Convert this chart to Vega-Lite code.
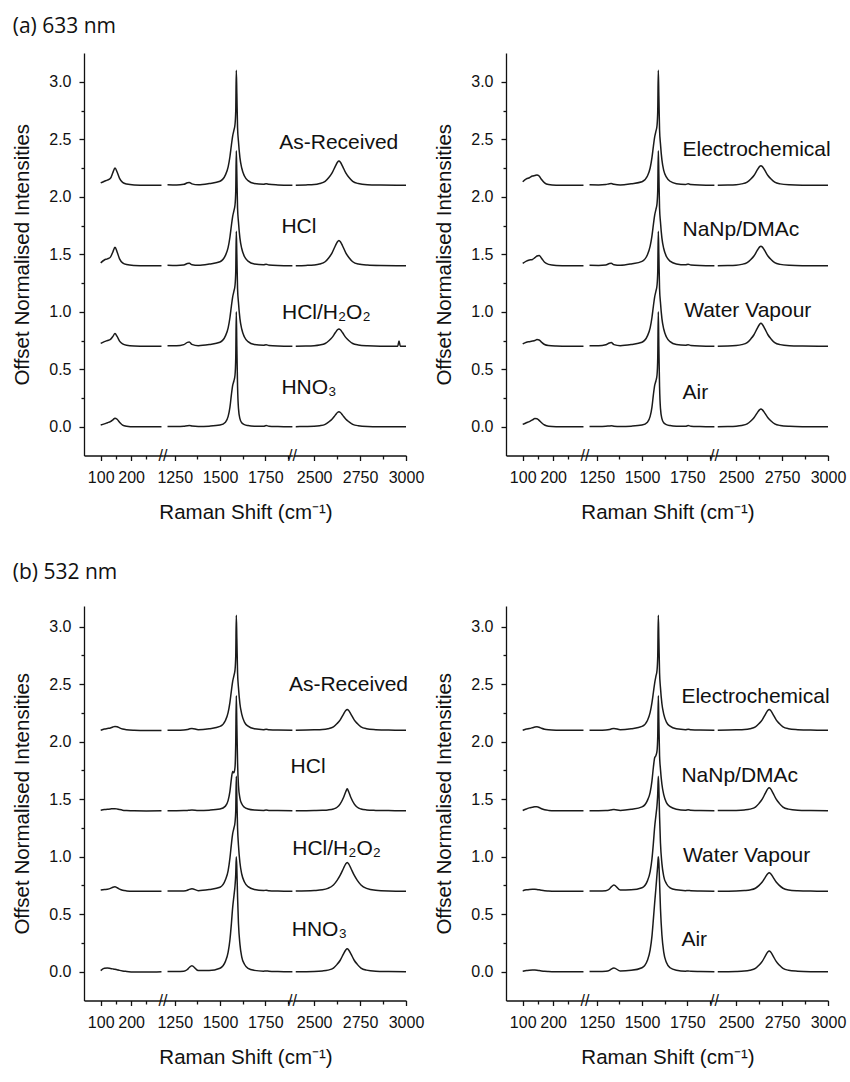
{
"$schema":"https://vega.github.io/schema/vega-lite/v6.json",
"background":"white",
"padding":{"left":12,"top":16,"right":5,"bottom":5},
"datasets":{
"a1":[
{"s":"As-Received","x":100,"y":2.12},{"s":"As-Received","x":112,"y":2.135},{"s":"As-Received","x":122,"y":2.145},{"s":"As-Received","x":132,"y":2.16},{"s":"As-Received","x":140,"y":2.21},{"s":"As-Received","x":147,"y":2.25},{"s":"As-Received","x":154,"y":2.215},{"s":"As-Received","x":162,"y":2.16},{"s":"As-Received","x":172,"y":2.125},{"s":"As-Received","x":185,"y":2.11},{"s":"As-Received","x":210,"y":2.102},{"s":"As-Received","x":250,"y":2.1},{"s":"As-Received","x":300,"y":2.101},
{"s":"As-Received","x":1210,"y":2.105},{"s":"As-Received","x":1260,"y":2.103},{"s":"As-Received","x":1300,"y":2.108},{"s":"As-Received","x":1320,"y":2.122},{"s":"As-Received","x":1330,"y":2.125},{"s":"As-Received","x":1345,"y":2.112},{"s":"As-Received","x":1380,"y":2.104},{"s":"As-Received","x":1440,"y":2.115},{"s":"As-Received","x":1500,"y":2.135},{"s":"As-Received","x":1530,"y":2.19},{"s":"As-Received","x":1545,"y":2.26},{"s":"As-Received","x":1555,"y":2.35},{"s":"As-Received","x":1563,"y":2.45},{"s":"As-Received","x":1570,"y":2.53},{"s":"As-Received","x":1577,"y":2.58},{"s":"As-Received","x":1583,"y":2.63},{"s":"As-Received","x":1587,"y":2.75},{"s":"As-Received","x":1590,"y":3.1},{"s":"As-Received","x":1593,"y":2.9},{"s":"As-Received","x":1597,"y":2.6},{"s":"As-Received","x":1602,"y":2.48},{"s":"As-Received","x":1610,"y":2.34},{"s":"As-Received","x":1620,"y":2.25},{"s":"As-Received","x":1635,"y":2.18},{"s":"As-Received","x":1655,"y":2.14},{"s":"As-Received","x":1690,"y":2.115},{"s":"As-Received","x":1740,"y":2.108},{"s":"As-Received","x":1755,"y":2.114},{"s":"As-Received","x":1770,"y":2.108},{"s":"As-Received","x":1820,"y":2.103},{"s":"As-Received","x":1900,"y":2.1},
{"s":"As-Received","x":2400,"y":2.101},{"s":"As-Received","x":2455,"y":2.103},{"s":"As-Received","x":2500,"y":2.106},{"s":"As-Received","x":2530,"y":2.115},{"s":"As-Received","x":2560,"y":2.134},{"s":"As-Received","x":2580,"y":2.167},{"s":"As-Received","x":2597,"y":2.205},{"s":"As-Received","x":2615,"y":2.264},{"s":"As-Received","x":2627,"y":2.3},{"s":"As-Received","x":2635,"y":2.31},{"s":"As-Received","x":2643,"y":2.3},{"s":"As-Received","x":2655,"y":2.264},{"s":"As-Received","x":2673,"y":2.205},{"s":"As-Received","x":2690,"y":2.167},{"s":"As-Received","x":2710,"y":2.134},{"s":"As-Received","x":2740,"y":2.115},{"s":"As-Received","x":2790,"y":2.105},{"s":"As-Received","x":2860,"y":2.102},{"s":"As-Received","x":3000,"y":2.1},
{"s":"HCl","x":100,"y":1.425},{"s":"HCl","x":112,"y":1.45},{"s":"HCl","x":122,"y":1.46},{"s":"HCl","x":132,"y":1.475},{"s":"HCl","x":140,"y":1.52},{"s":"HCl","x":147,"y":1.56},{"s":"HCl","x":154,"y":1.52},{"s":"HCl","x":162,"y":1.46},{"s":"HCl","x":172,"y":1.425},{"s":"HCl","x":185,"y":1.41},{"s":"HCl","x":210,"y":1.403},{"s":"HCl","x":250,"y":1.4},{"s":"HCl","x":300,"y":1.4},
{"s":"HCl","x":1210,"y":1.405},{"s":"HCl","x":1260,"y":1.403},{"s":"HCl","x":1300,"y":1.407},{"s":"HCl","x":1320,"y":1.419},{"s":"HCl","x":1330,"y":1.421},{"s":"HCl","x":1345,"y":1.409},{"s":"HCl","x":1380,"y":1.404},{"s":"HCl","x":1440,"y":1.415},{"s":"HCl","x":1500,"y":1.435},{"s":"HCl","x":1530,"y":1.49},{"s":"HCl","x":1545,"y":1.56},{"s":"HCl","x":1555,"y":1.65},{"s":"HCl","x":1563,"y":1.75},{"s":"HCl","x":1570,"y":1.83},{"s":"HCl","x":1577,"y":1.88},{"s":"HCl","x":1583,"y":1.93},{"s":"HCl","x":1587,"y":2.05},{"s":"HCl","x":1590,"y":2.4},{"s":"HCl","x":1593,"y":2.2},{"s":"HCl","x":1597,"y":1.9},{"s":"HCl","x":1602,"y":1.78},{"s":"HCl","x":1610,"y":1.64},{"s":"HCl","x":1620,"y":1.55},{"s":"HCl","x":1635,"y":1.48},{"s":"HCl","x":1655,"y":1.44},{"s":"HCl","x":1690,"y":1.415},{"s":"HCl","x":1740,"y":1.408},{"s":"HCl","x":1755,"y":1.413},{"s":"HCl","x":1770,"y":1.407},{"s":"HCl","x":1820,"y":1.402},{"s":"HCl","x":1900,"y":1.4},
{"s":"HCl","x":2400,"y":1.401},{"s":"HCl","x":2455,"y":1.403},{"s":"HCl","x":2500,"y":1.407},{"s":"HCl","x":2530,"y":1.415},{"s":"HCl","x":2560,"y":1.435},{"s":"HCl","x":2580,"y":1.47},{"s":"HCl","x":2597,"y":1.51},{"s":"HCl","x":2615,"y":1.572},{"s":"HCl","x":2627,"y":1.609},{"s":"HCl","x":2635,"y":1.62},{"s":"HCl","x":2643,"y":1.609},{"s":"HCl","x":2655,"y":1.572},{"s":"HCl","x":2673,"y":1.51},{"s":"HCl","x":2690,"y":1.47},{"s":"HCl","x":2710,"y":1.435},{"s":"HCl","x":2740,"y":1.415},{"s":"HCl","x":2790,"y":1.406},{"s":"HCl","x":2860,"y":1.402},{"s":"HCl","x":3000,"y":1.4},
{"s":"HCl/H2O2","x":100,"y":0.725},{"s":"HCl/H2O2","x":112,"y":0.74},{"s":"HCl/H2O2","x":122,"y":0.75},{"s":"HCl/H2O2","x":132,"y":0.76},{"s":"HCl/H2O2","x":140,"y":0.785},{"s":"HCl/H2O2","x":147,"y":0.81},{"s":"HCl/H2O2","x":154,"y":0.785},{"s":"HCl/H2O2","x":162,"y":0.745},{"s":"HCl/H2O2","x":172,"y":0.72},{"s":"HCl/H2O2","x":185,"y":0.708},{"s":"HCl/H2O2","x":210,"y":0.702},{"s":"HCl/H2O2","x":250,"y":0.7},{"s":"HCl/H2O2","x":300,"y":0.7},
{"s":"HCl/H2O2","x":1210,"y":0.705},{"s":"HCl/H2O2","x":1260,"y":0.704},{"s":"HCl/H2O2","x":1300,"y":0.714},{"s":"HCl/H2O2","x":1320,"y":0.734},{"s":"HCl/H2O2","x":1330,"y":0.737},{"s":"HCl/H2O2","x":1345,"y":0.716},{"s":"HCl/H2O2","x":1380,"y":0.705},{"s":"HCl/H2O2","x":1440,"y":0.715},{"s":"HCl/H2O2","x":1500,"y":0.735},{"s":"HCl/H2O2","x":1530,"y":0.79},{"s":"HCl/H2O2","x":1545,"y":0.86},{"s":"HCl/H2O2","x":1555,"y":0.95},{"s":"HCl/H2O2","x":1563,"y":1.05},{"s":"HCl/H2O2","x":1570,"y":1.13},{"s":"HCl/H2O2","x":1577,"y":1.18},{"s":"HCl/H2O2","x":1583,"y":1.23},{"s":"HCl/H2O2","x":1587,"y":1.35},{"s":"HCl/H2O2","x":1590,"y":1.7},{"s":"HCl/H2O2","x":1593,"y":1.5},{"s":"HCl/H2O2","x":1597,"y":1.2},{"s":"HCl/H2O2","x":1602,"y":1.08},{"s":"HCl/H2O2","x":1610,"y":0.94},{"s":"HCl/H2O2","x":1620,"y":0.85},{"s":"HCl/H2O2","x":1635,"y":0.78},{"s":"HCl/H2O2","x":1655,"y":0.74},{"s":"HCl/H2O2","x":1690,"y":0.715},{"s":"HCl/H2O2","x":1740,"y":0.708},{"s":"HCl/H2O2","x":1755,"y":0.713},{"s":"HCl/H2O2","x":1770,"y":0.707},{"s":"HCl/H2O2","x":1820,"y":0.702},{"s":"HCl/H2O2","x":1900,"y":0.7},
{"s":"HCl/H2O2","x":2400,"y":0.701},{"s":"HCl/H2O2","x":2455,"y":0.702},{"s":"HCl/H2O2","x":2500,"y":0.705},{"s":"HCl/H2O2","x":2530,"y":0.711},{"s":"HCl/H2O2","x":2560,"y":0.724},{"s":"HCl/H2O2","x":2580,"y":0.748},{"s":"HCl/H2O2","x":2597,"y":0.775},{"s":"HCl/H2O2","x":2615,"y":0.817},{"s":"HCl/H2O2","x":2627,"y":0.843},{"s":"HCl/H2O2","x":2635,"y":0.85},{"s":"HCl/H2O2","x":2643,"y":0.843},{"s":"HCl/H2O2","x":2655,"y":0.817},{"s":"HCl/H2O2","x":2673,"y":0.775},{"s":"HCl/H2O2","x":2690,"y":0.748},{"s":"HCl/H2O2","x":2710,"y":0.724},{"s":"HCl/H2O2","x":2740,"y":0.711},{"s":"HCl/H2O2","x":2790,"y":0.704},{"s":"HCl/H2O2","x":2860,"y":0.701},{"s":"HCl/H2O2","x":2955,"y":0.701},{"s":"HCl/H2O2","x":2962,"y":0.745},{"s":"HCl/H2O2","x":2969,"y":0.701},{"s":"HCl/H2O2","x":3000,"y":0.7},
{"s":"HNO3","x":100,"y":0.015},{"s":"HNO3","x":112,"y":0.025},{"s":"HNO3","x":122,"y":0.035},{"s":"HNO3","x":132,"y":0.045},{"s":"HNO3","x":140,"y":0.06},{"s":"HNO3","x":147,"y":0.075},{"s":"HNO3","x":154,"y":0.065},{"s":"HNO3","x":162,"y":0.04},{"s":"HNO3","x":172,"y":0.015},{"s":"HNO3","x":185,"y":0.005},{"s":"HNO3","x":210,"y":0},{"s":"HNO3","x":250,"y":0},{"s":"HNO3","x":300,"y":0},
{"s":"HNO3","x":1210,"y":0.003},{"s":"HNO3","x":1260,"y":0.002},{"s":"HNO3","x":1300,"y":0.005},{"s":"HNO3","x":1320,"y":0.009},{"s":"HNO3","x":1330,"y":0.01},{"s":"HNO3","x":1345,"y":0.006},{"s":"HNO3","x":1380,"y":0.002},{"s":"HNO3","x":1440,"y":0.005},{"s":"HNO3","x":1500,"y":0.015},{"s":"HNO3","x":1530,"y":0.04},{"s":"HNO3","x":1545,"y":0.09},{"s":"HNO3","x":1555,"y":0.17},{"s":"HNO3","x":1563,"y":0.28},{"s":"HNO3","x":1570,"y":0.36},{"s":"HNO3","x":1577,"y":0.4},{"s":"HNO3","x":1583,"y":0.45},{"s":"HNO3","x":1587,"y":0.6},{"s":"HNO3","x":1590,"y":1.0},{"s":"HNO3","x":1593,"y":0.7},{"s":"HNO3","x":1597,"y":0.35},{"s":"HNO3","x":1602,"y":0.16},{"s":"HNO3","x":1610,"y":0.07},{"s":"HNO3","x":1620,"y":0.035},{"s":"HNO3","x":1635,"y":0.018},{"s":"HNO3","x":1655,"y":0.01},{"s":"HNO3","x":1690,"y":0.005},{"s":"HNO3","x":1740,"y":0.004},{"s":"HNO3","x":1755,"y":0.01},{"s":"HNO3","x":1770,"y":0.005},{"s":"HNO3","x":1820,"y":0.002},{"s":"HNO3","x":1900,"y":0},
{"s":"HNO3","x":2400,"y":0.001},{"s":"HNO3","x":2455,"y":0.002},{"s":"HNO3","x":2500,"y":0.004},{"s":"HNO3","x":2530,"y":0.009},{"s":"HNO3","x":2560,"y":0.021},{"s":"HNO3","x":2580,"y":0.042},{"s":"HNO3","x":2597,"y":0.065},{"s":"HNO3","x":2615,"y":0.101},{"s":"HNO3","x":2627,"y":0.124},{"s":"HNO3","x":2635,"y":0.13},{"s":"HNO3","x":2643,"y":0.124},{"s":"HNO3","x":2655,"y":0.101},{"s":"HNO3","x":2673,"y":0.065},{"s":"HNO3","x":2690,"y":0.042},{"s":"HNO3","x":2710,"y":0.021},{"s":"HNO3","x":2740,"y":0.009},{"s":"HNO3","x":2790,"y":0.003},{"s":"HNO3","x":2860,"y":0.001},{"s":"HNO3","x":3000,"y":0}
],
"a2":[
{"s":"Electrochemical","x":100,"y":2.13},{"s":"Electrochemical","x":112,"y":2.155},{"s":"Electrochemical","x":122,"y":2.165},{"s":"Electrochemical","x":132,"y":2.18},{"s":"Electrochemical","x":140,"y":2.185},{"s":"Electrochemical","x":147,"y":2.19},{"s":"Electrochemical","x":154,"y":2.18},{"s":"Electrochemical","x":162,"y":2.15},{"s":"Electrochemical","x":172,"y":2.12},{"s":"Electrochemical","x":185,"y":2.106},{"s":"Electrochemical","x":210,"y":2.101},{"s":"Electrochemical","x":250,"y":2.1},{"s":"Electrochemical","x":300,"y":2.1},
{"s":"Electrochemical","x":1210,"y":2.104},{"s":"Electrochemical","x":1260,"y":2.103},{"s":"Electrochemical","x":1300,"y":2.106},{"s":"Electrochemical","x":1320,"y":2.114},{"s":"Electrochemical","x":1330,"y":2.115},{"s":"Electrochemical","x":1345,"y":2.108},{"s":"Electrochemical","x":1380,"y":2.103},{"s":"Electrochemical","x":1440,"y":2.113},{"s":"Electrochemical","x":1500,"y":2.13},{"s":"Electrochemical","x":1530,"y":2.18},{"s":"Electrochemical","x":1545,"y":2.25},{"s":"Electrochemical","x":1555,"y":2.34},{"s":"Electrochemical","x":1563,"y":2.44},{"s":"Electrochemical","x":1570,"y":2.52},{"s":"Electrochemical","x":1577,"y":2.57},{"s":"Electrochemical","x":1583,"y":2.62},{"s":"Electrochemical","x":1587,"y":2.75},{"s":"Electrochemical","x":1590,"y":3.1},{"s":"Electrochemical","x":1593,"y":2.88},{"s":"Electrochemical","x":1597,"y":2.58},{"s":"Electrochemical","x":1602,"y":2.46},{"s":"Electrochemical","x":1610,"y":2.32},{"s":"Electrochemical","x":1620,"y":2.23},{"s":"Electrochemical","x":1635,"y":2.17},{"s":"Electrochemical","x":1655,"y":2.135},{"s":"Electrochemical","x":1690,"y":2.114},{"s":"Electrochemical","x":1740,"y":2.107},{"s":"Electrochemical","x":1755,"y":2.112},{"s":"Electrochemical","x":1770,"y":2.107},{"s":"Electrochemical","x":1820,"y":2.102},{"s":"Electrochemical","x":1900,"y":2.1},
{"s":"Electrochemical","x":2400,"y":2.101},{"s":"Electrochemical","x":2455,"y":2.102},{"s":"Electrochemical","x":2500,"y":2.105},{"s":"Electrochemical","x":2530,"y":2.112},{"s":"Electrochemical","x":2560,"y":2.127},{"s":"Electrochemical","x":2580,"y":2.154},{"s":"Electrochemical","x":2597,"y":2.185},{"s":"Electrochemical","x":2615,"y":2.233},{"s":"Electrochemical","x":2627,"y":2.262},{"s":"Electrochemical","x":2635,"y":2.27},{"s":"Electrochemical","x":2643,"y":2.262},{"s":"Electrochemical","x":2655,"y":2.233},{"s":"Electrochemical","x":2673,"y":2.185},{"s":"Electrochemical","x":2690,"y":2.154},{"s":"Electrochemical","x":2710,"y":2.127},{"s":"Electrochemical","x":2740,"y":2.112},{"s":"Electrochemical","x":2790,"y":2.104},{"s":"Electrochemical","x":2860,"y":2.101},{"s":"Electrochemical","x":3000,"y":2.1},
{"s":"NaNp/DMAc","x":100,"y":1.42},{"s":"NaNp/DMAc","x":112,"y":1.44},{"s":"NaNp/DMAc","x":122,"y":1.45},{"s":"NaNp/DMAc","x":132,"y":1.455},{"s":"NaNp/DMAc","x":140,"y":1.47},{"s":"NaNp/DMAc","x":147,"y":1.485},{"s":"NaNp/DMAc","x":154,"y":1.49},{"s":"NaNp/DMAc","x":162,"y":1.465},{"s":"NaNp/DMAc","x":172,"y":1.43},{"s":"NaNp/DMAc","x":185,"y":1.412},{"s":"NaNp/DMAc","x":210,"y":1.403},{"s":"NaNp/DMAc","x":250,"y":1.4},{"s":"NaNp/DMAc","x":300,"y":1.4},
{"s":"NaNp/DMAc","x":1210,"y":1.404},{"s":"NaNp/DMAc","x":1260,"y":1.403},{"s":"NaNp/DMAc","x":1300,"y":1.407},{"s":"NaNp/DMAc","x":1320,"y":1.419},{"s":"NaNp/DMAc","x":1330,"y":1.421},{"s":"NaNp/DMAc","x":1345,"y":1.409},{"s":"NaNp/DMAc","x":1380,"y":1.404},{"s":"NaNp/DMAc","x":1440,"y":1.416},{"s":"NaNp/DMAc","x":1500,"y":1.438},{"s":"NaNp/DMAc","x":1530,"y":1.495},{"s":"NaNp/DMAc","x":1545,"y":1.57},{"s":"NaNp/DMAc","x":1555,"y":1.66},{"s":"NaNp/DMAc","x":1563,"y":1.76},{"s":"NaNp/DMAc","x":1570,"y":1.84},{"s":"NaNp/DMAc","x":1577,"y":1.89},{"s":"NaNp/DMAc","x":1583,"y":1.94},{"s":"NaNp/DMAc","x":1587,"y":2.06},{"s":"NaNp/DMAc","x":1590,"y":2.4},{"s":"NaNp/DMAc","x":1593,"y":2.2},{"s":"NaNp/DMAc","x":1597,"y":1.9},{"s":"NaNp/DMAc","x":1602,"y":1.78},{"s":"NaNp/DMAc","x":1610,"y":1.64},{"s":"NaNp/DMAc","x":1620,"y":1.55},{"s":"NaNp/DMAc","x":1635,"y":1.48},{"s":"NaNp/DMAc","x":1655,"y":1.44},{"s":"NaNp/DMAc","x":1690,"y":1.416},{"s":"NaNp/DMAc","x":1740,"y":1.408},{"s":"NaNp/DMAc","x":1755,"y":1.413},{"s":"NaNp/DMAc","x":1770,"y":1.407},{"s":"NaNp/DMAc","x":1820,"y":1.402},{"s":"NaNp/DMAc","x":1900,"y":1.4},
{"s":"NaNp/DMAc","x":2400,"y":1.401},{"s":"NaNp/DMAc","x":2455,"y":1.402},{"s":"NaNp/DMAc","x":2500,"y":1.405},{"s":"NaNp/DMAc","x":2530,"y":1.412},{"s":"NaNp/DMAc","x":2560,"y":1.427},{"s":"NaNp/DMAc","x":2580,"y":1.454},{"s":"NaNp/DMAc","x":2597,"y":1.485},{"s":"NaNp/DMAc","x":2615,"y":1.533},{"s":"NaNp/DMAc","x":2627,"y":1.562},{"s":"NaNp/DMAc","x":2635,"y":1.57},{"s":"NaNp/DMAc","x":2643,"y":1.562},{"s":"NaNp/DMAc","x":2655,"y":1.533},{"s":"NaNp/DMAc","x":2673,"y":1.485},{"s":"NaNp/DMAc","x":2690,"y":1.454},{"s":"NaNp/DMAc","x":2710,"y":1.427},{"s":"NaNp/DMAc","x":2740,"y":1.412},{"s":"NaNp/DMAc","x":2790,"y":1.404},{"s":"NaNp/DMAc","x":2860,"y":1.401},{"s":"NaNp/DMAc","x":3000,"y":1.4},
{"s":"Water Vapour","x":100,"y":0.72},{"s":"Water Vapour","x":112,"y":0.735},{"s":"Water Vapour","x":122,"y":0.74},{"s":"Water Vapour","x":132,"y":0.745},{"s":"Water Vapour","x":140,"y":0.75},{"s":"Water Vapour","x":147,"y":0.758},{"s":"Water Vapour","x":154,"y":0.755},{"s":"Water Vapour","x":162,"y":0.735},{"s":"Water Vapour","x":172,"y":0.715},{"s":"Water Vapour","x":185,"y":0.706},{"s":"Water Vapour","x":210,"y":0.702},{"s":"Water Vapour","x":250,"y":0.7},{"s":"Water Vapour","x":300,"y":0.7},
{"s":"Water Vapour","x":1210,"y":0.705},{"s":"Water Vapour","x":1260,"y":0.704},{"s":"Water Vapour","x":1300,"y":0.713},{"s":"Water Vapour","x":1320,"y":0.729},{"s":"Water Vapour","x":1330,"y":0.732},{"s":"Water Vapour","x":1345,"y":0.714},{"s":"Water Vapour","x":1380,"y":0.705},{"s":"Water Vapour","x":1440,"y":0.715},{"s":"Water Vapour","x":1500,"y":0.735},{"s":"Water Vapour","x":1530,"y":0.79},{"s":"Water Vapour","x":1545,"y":0.86},{"s":"Water Vapour","x":1555,"y":0.95},{"s":"Water Vapour","x":1563,"y":1.05},{"s":"Water Vapour","x":1570,"y":1.13},{"s":"Water Vapour","x":1577,"y":1.18},{"s":"Water Vapour","x":1583,"y":1.23},{"s":"Water Vapour","x":1587,"y":1.35},{"s":"Water Vapour","x":1590,"y":1.7},{"s":"Water Vapour","x":1593,"y":1.5},{"s":"Water Vapour","x":1597,"y":1.2},{"s":"Water Vapour","x":1602,"y":1.08},{"s":"Water Vapour","x":1610,"y":0.94},{"s":"Water Vapour","x":1620,"y":0.85},{"s":"Water Vapour","x":1635,"y":0.78},{"s":"Water Vapour","x":1655,"y":0.74},{"s":"Water Vapour","x":1690,"y":0.715},{"s":"Water Vapour","x":1740,"y":0.708},{"s":"Water Vapour","x":1755,"y":0.713},{"s":"Water Vapour","x":1770,"y":0.707},{"s":"Water Vapour","x":1820,"y":0.702},{"s":"Water Vapour","x":1900,"y":0.7},
{"s":"Water Vapour","x":2400,"y":0.701},{"s":"Water Vapour","x":2455,"y":0.702},{"s":"Water Vapour","x":2500,"y":0.706},{"s":"Water Vapour","x":2530,"y":0.714},{"s":"Water Vapour","x":2560,"y":0.732},{"s":"Water Vapour","x":2580,"y":0.764},{"s":"Water Vapour","x":2597,"y":0.8},{"s":"Water Vapour","x":2615,"y":0.856},{"s":"Water Vapour","x":2627,"y":0.89},{"s":"Water Vapour","x":2635,"y":0.9},{"s":"Water Vapour","x":2643,"y":0.89},{"s":"Water Vapour","x":2655,"y":0.856},{"s":"Water Vapour","x":2673,"y":0.8},{"s":"Water Vapour","x":2690,"y":0.764},{"s":"Water Vapour","x":2710,"y":0.732},{"s":"Water Vapour","x":2740,"y":0.714},{"s":"Water Vapour","x":2790,"y":0.705},{"s":"Water Vapour","x":2860,"y":0.702},{"s":"Water Vapour","x":3000,"y":0.7},
{"s":"Air","x":100,"y":0.02},{"s":"Air","x":112,"y":0.035},{"s":"Air","x":122,"y":0.045},{"s":"Air","x":132,"y":0.06},{"s":"Air","x":140,"y":0.072},{"s":"Air","x":147,"y":0.07},{"s":"Air","x":154,"y":0.055},{"s":"Air","x":162,"y":0.035},{"s":"Air","x":172,"y":0.015},{"s":"Air","x":185,"y":0.005},{"s":"Air","x":210,"y":0.001},{"s":"Air","x":250,"y":0},{"s":"Air","x":300,"y":0},
{"s":"Air","x":1210,"y":0.003},{"s":"Air","x":1260,"y":0.002},{"s":"Air","x":1300,"y":0.004},{"s":"Air","x":1320,"y":0.007},{"s":"Air","x":1330,"y":0.008},{"s":"Air","x":1345,"y":0.005},{"s":"Air","x":1380,"y":0.002},{"s":"Air","x":1440,"y":0.005},{"s":"Air","x":1500,"y":0.015},{"s":"Air","x":1530,"y":0.04},{"s":"Air","x":1545,"y":0.09},{"s":"Air","x":1555,"y":0.17},{"s":"Air","x":1563,"y":0.28},{"s":"Air","x":1570,"y":0.36},{"s":"Air","x":1577,"y":0.4},{"s":"Air","x":1583,"y":0.45},{"s":"Air","x":1587,"y":0.6},{"s":"Air","x":1590,"y":1.0},{"s":"Air","x":1593,"y":0.7},{"s":"Air","x":1597,"y":0.35},{"s":"Air","x":1602,"y":0.16},{"s":"Air","x":1610,"y":0.07},{"s":"Air","x":1620,"y":0.035},{"s":"Air","x":1635,"y":0.018},{"s":"Air","x":1655,"y":0.01},{"s":"Air","x":1690,"y":0.005},{"s":"Air","x":1740,"y":0.004},{"s":"Air","x":1755,"y":0.01},{"s":"Air","x":1770,"y":0.005},{"s":"Air","x":1820,"y":0.002},{"s":"Air","x":1900,"y":0},
{"s":"Air","x":2400,"y":0.001},{"s":"Air","x":2455,"y":0.002},{"s":"Air","x":2500,"y":0.005},{"s":"Air","x":2530,"y":0.011},{"s":"Air","x":2560,"y":0.025},{"s":"Air","x":2580,"y":0.05},{"s":"Air","x":2597,"y":0.078},{"s":"Air","x":2615,"y":0.121},{"s":"Air","x":2627,"y":0.147},{"s":"Air","x":2635,"y":0.155},{"s":"Air","x":2643,"y":0.147},{"s":"Air","x":2655,"y":0.121},{"s":"Air","x":2673,"y":0.078},{"s":"Air","x":2690,"y":0.05},{"s":"Air","x":2710,"y":0.025},{"s":"Air","x":2740,"y":0.011},{"s":"Air","x":2790,"y":0.004},{"s":"Air","x":2860,"y":0.001},{"s":"Air","x":3000,"y":0}
],
"b1":[
{"s":"As-Received","x":100,"y":2.1},{"s":"As-Received","x":112,"y":2.11},{"s":"As-Received","x":122,"y":2.115},{"s":"As-Received","x":132,"y":2.12},{"s":"As-Received","x":140,"y":2.128},{"s":"As-Received","x":147,"y":2.132},{"s":"As-Received","x":154,"y":2.13},{"s":"As-Received","x":162,"y":2.12},{"s":"As-Received","x":172,"y":2.11},{"s":"As-Received","x":185,"y":2.104},{"s":"As-Received","x":210,"y":2.1},{"s":"As-Received","x":250,"y":2.098},{"s":"As-Received","x":300,"y":2.098},
{"s":"As-Received","x":1210,"y":2.1},{"s":"As-Received","x":1260,"y":2.1},{"s":"As-Received","x":1300,"y":2.102},{"s":"As-Received","x":1320,"y":2.106},{"s":"As-Received","x":1330,"y":2.111},{"s":"As-Received","x":1345,"y":2.116},{"s":"As-Received","x":1380,"y":2.104},{"s":"As-Received","x":1440,"y":2.113},{"s":"As-Received","x":1500,"y":2.133},{"s":"As-Received","x":1530,"y":2.185},{"s":"As-Received","x":1545,"y":2.255},{"s":"As-Received","x":1555,"y":2.345},{"s":"As-Received","x":1563,"y":2.445},{"s":"As-Received","x":1570,"y":2.525},{"s":"As-Received","x":1577,"y":2.575},{"s":"As-Received","x":1583,"y":2.625},{"s":"As-Received","x":1587,"y":2.75},{"s":"As-Received","x":1590,"y":3.1},{"s":"As-Received","x":1593,"y":2.9},{"s":"As-Received","x":1597,"y":2.6},{"s":"As-Received","x":1602,"y":2.47},{"s":"As-Received","x":1610,"y":2.33},{"s":"As-Received","x":1620,"y":2.24},{"s":"As-Received","x":1635,"y":2.17},{"s":"As-Received","x":1655,"y":2.135},{"s":"As-Received","x":1690,"y":2.112},{"s":"As-Received","x":1740,"y":2.105},{"s":"As-Received","x":1755,"y":2.108},{"s":"As-Received","x":1770,"y":2.104},{"s":"As-Received","x":1820,"y":2.101},{"s":"As-Received","x":1900,"y":2.1},
{"s":"As-Received","x":2400,"y":2.1},{"s":"As-Received","x":2500,"y":2.103},{"s":"As-Received","x":2545,"y":2.106},{"s":"As-Received","x":2575,"y":2.113},{"s":"As-Received","x":2605,"y":2.129},{"s":"As-Received","x":2625,"y":2.158},{"s":"As-Received","x":2642,"y":2.19},{"s":"As-Received","x":2660,"y":2.24},{"s":"As-Received","x":2672,"y":2.271},{"s":"As-Received","x":2680,"y":2.28},{"s":"As-Received","x":2688,"y":2.271},{"s":"As-Received","x":2700,"y":2.24},{"s":"As-Received","x":2718,"y":2.19},{"s":"As-Received","x":2735,"y":2.158},{"s":"As-Received","x":2755,"y":2.129},{"s":"As-Received","x":2785,"y":2.113},{"s":"As-Received","x":2835,"y":2.105},{"s":"As-Received","x":2905,"y":2.101},{"s":"As-Received","x":3000,"y":2.1},
{"s":"HCl","x":100,"y":1.405},{"s":"HCl","x":112,"y":1.41},{"s":"HCl","x":122,"y":1.413},{"s":"HCl","x":132,"y":1.415},{"s":"HCl","x":140,"y":1.418},{"s":"HCl","x":147,"y":1.418},{"s":"HCl","x":154,"y":1.415},{"s":"HCl","x":162,"y":1.41},{"s":"HCl","x":172,"y":1.405},{"s":"HCl","x":185,"y":1.402},{"s":"HCl","x":210,"y":1.399},{"s":"HCl","x":250,"y":1.398},{"s":"HCl","x":300,"y":1.399},
{"s":"HCl","x":1210,"y":1.4},{"s":"HCl","x":1260,"y":1.4},{"s":"HCl","x":1300,"y":1.401},{"s":"HCl","x":1320,"y":1.403},{"s":"HCl","x":1330,"y":1.405},{"s":"HCl","x":1345,"y":1.406},{"s":"HCl","x":1380,"y":1.402},{"s":"HCl","x":1440,"y":1.405},{"s":"HCl","x":1500,"y":1.415},{"s":"HCl","x":1530,"y":1.44},{"s":"HCl","x":1545,"y":1.49},{"s":"HCl","x":1555,"y":1.57},{"s":"HCl","x":1563,"y":1.68},{"s":"HCl","x":1570,"y":1.74},{"s":"HCl","x":1577,"y":1.73},{"s":"HCl","x":1583,"y":1.78},{"s":"HCl","x":1587,"y":2.0},{"s":"HCl","x":1590,"y":2.4},{"s":"HCl","x":1593,"y":2.15},{"s":"HCl","x":1597,"y":1.82},{"s":"HCl","x":1602,"y":1.62},{"s":"HCl","x":1610,"y":1.51},{"s":"HCl","x":1620,"y":1.46},{"s":"HCl","x":1635,"y":1.43},{"s":"HCl","x":1655,"y":1.415},{"s":"HCl","x":1690,"y":1.406},{"s":"HCl","x":1740,"y":1.403},{"s":"HCl","x":1755,"y":1.406},{"s":"HCl","x":1770,"y":1.403},{"s":"HCl","x":1820,"y":1.401},{"s":"HCl","x":1900,"y":1.4},
{"s":"HCl","x":2400,"y":1.4},{"s":"HCl","x":2500,"y":1.402},{"s":"HCl","x":2545,"y":1.404},{"s":"HCl","x":2575,"y":1.407},{"s":"HCl","x":2605,"y":1.415},{"s":"HCl","x":2625,"y":1.43},{"s":"HCl","x":2642,"y":1.46},{"s":"HCl","x":2660,"y":1.515},{"s":"HCl","x":2672,"y":1.565},{"s":"HCl","x":2680,"y":1.59},{"s":"HCl","x":2688,"y":1.565},{"s":"HCl","x":2700,"y":1.515},{"s":"HCl","x":2718,"y":1.46},{"s":"HCl","x":2735,"y":1.43},{"s":"HCl","x":2755,"y":1.415},{"s":"HCl","x":2785,"y":1.407},{"s":"HCl","x":2835,"y":1.403},{"s":"HCl","x":2905,"y":1.401},{"s":"HCl","x":3000,"y":1.4},
{"s":"HCl/H2O2","x":100,"y":0.71},{"s":"HCl/H2O2","x":112,"y":0.715},{"s":"HCl/H2O2","x":122,"y":0.718},{"s":"HCl/H2O2","x":132,"y":0.725},{"s":"HCl/H2O2","x":140,"y":0.735},{"s":"HCl/H2O2","x":147,"y":0.738},{"s":"HCl/H2O2","x":154,"y":0.73},{"s":"HCl/H2O2","x":162,"y":0.718},{"s":"HCl/H2O2","x":172,"y":0.708},{"s":"HCl/H2O2","x":185,"y":0.703},{"s":"HCl/H2O2","x":210,"y":0.7},{"s":"HCl/H2O2","x":250,"y":0.699},{"s":"HCl/H2O2","x":300,"y":0.7},
{"s":"HCl/H2O2","x":1210,"y":0.702},{"s":"HCl/H2O2","x":1260,"y":0.702},{"s":"HCl/H2O2","x":1300,"y":0.703},{"s":"HCl/H2O2","x":1320,"y":0.709},{"s":"HCl/H2O2","x":1330,"y":0.716},{"s":"HCl/H2O2","x":1345,"y":0.722},{"s":"HCl/H2O2","x":1380,"y":0.705},{"s":"HCl/H2O2","x":1440,"y":0.715},{"s":"HCl/H2O2","x":1500,"y":0.735},{"s":"HCl/H2O2","x":1530,"y":0.8},{"s":"HCl/H2O2","x":1545,"y":0.88},{"s":"HCl/H2O2","x":1555,"y":0.99},{"s":"HCl/H2O2","x":1563,"y":1.11},{"s":"HCl/H2O2","x":1570,"y":1.2},{"s":"HCl/H2O2","x":1577,"y":1.25},{"s":"HCl/H2O2","x":1583,"y":1.3},{"s":"HCl/H2O2","x":1587,"y":1.4},{"s":"HCl/H2O2","x":1590,"y":1.7},{"s":"HCl/H2O2","x":1593,"y":1.52},{"s":"HCl/H2O2","x":1597,"y":1.25},{"s":"HCl/H2O2","x":1602,"y":1.1},{"s":"HCl/H2O2","x":1610,"y":0.95},{"s":"HCl/H2O2","x":1620,"y":0.85},{"s":"HCl/H2O2","x":1635,"y":0.78},{"s":"HCl/H2O2","x":1655,"y":0.74},{"s":"HCl/H2O2","x":1690,"y":0.715},{"s":"HCl/H2O2","x":1740,"y":0.706},{"s":"HCl/H2O2","x":1755,"y":0.709},{"s":"HCl/H2O2","x":1770,"y":0.705},{"s":"HCl/H2O2","x":1820,"y":0.702},{"s":"HCl/H2O2","x":1900,"y":0.7},
{"s":"HCl/H2O2","x":2400,"y":0.701},{"s":"HCl/H2O2","x":2500,"y":0.706},{"s":"HCl/H2O2","x":2545,"y":0.712},{"s":"HCl/H2O2","x":2575,"y":0.725},{"s":"HCl/H2O2","x":2605,"y":0.755},{"s":"HCl/H2O2","x":2625,"y":0.795},{"s":"HCl/H2O2","x":2642,"y":0.84},{"s":"HCl/H2O2","x":2660,"y":0.9},{"s":"HCl/H2O2","x":2672,"y":0.938},{"s":"HCl/H2O2","x":2680,"y":0.95},{"s":"HCl/H2O2","x":2688,"y":0.938},{"s":"HCl/H2O2","x":2700,"y":0.9},{"s":"HCl/H2O2","x":2718,"y":0.84},{"s":"HCl/H2O2","x":2735,"y":0.795},{"s":"HCl/H2O2","x":2755,"y":0.755},{"s":"HCl/H2O2","x":2785,"y":0.725},{"s":"HCl/H2O2","x":2835,"y":0.708},{"s":"HCl/H2O2","x":2905,"y":0.702},{"s":"HCl/H2O2","x":3000,"y":0.7},
{"s":"HNO3","x":100,"y":0.01},{"s":"HNO3","x":112,"y":0.03},{"s":"HNO3","x":122,"y":0.032},{"s":"HNO3","x":132,"y":0.028},{"s":"HNO3","x":140,"y":0.025},{"s":"HNO3","x":147,"y":0.022},{"s":"HNO3","x":154,"y":0.018},{"s":"HNO3","x":162,"y":0.012},{"s":"HNO3","x":172,"y":0.007},{"s":"HNO3","x":185,"y":0.003},{"s":"HNO3","x":210,"y":-0.002},{"s":"HNO3","x":250,"y":-0.003},{"s":"HNO3","x":300,"y":0},
{"s":"HNO3","x":1210,"y":0.002},{"s":"HNO3","x":1260,"y":0.002},{"s":"HNO3","x":1300,"y":0.005},{"s":"HNO3","x":1320,"y":0.02},{"s":"HNO3","x":1330,"y":0.037},{"s":"HNO3","x":1345,"y":0.052},{"s":"HNO3","x":1380,"y":0.01},{"s":"HNO3","x":1440,"y":0.01},{"s":"HNO3","x":1500,"y":0.03},{"s":"HNO3","x":1530,"y":0.09},{"s":"HNO3","x":1545,"y":0.17},{"s":"HNO3","x":1555,"y":0.28},{"s":"HNO3","x":1563,"y":0.42},{"s":"HNO3","x":1570,"y":0.56},{"s":"HNO3","x":1577,"y":0.66},{"s":"HNO3","x":1583,"y":0.75},{"s":"HNO3","x":1587,"y":0.85},{"s":"HNO3","x":1590,"y":1.0},{"s":"HNO3","x":1593,"y":0.9},{"s":"HNO3","x":1597,"y":0.65},{"s":"HNO3","x":1602,"y":0.42},{"s":"HNO3","x":1610,"y":0.24},{"s":"HNO3","x":1620,"y":0.13},{"s":"HNO3","x":1635,"y":0.065},{"s":"HNO3","x":1655,"y":0.03},{"s":"HNO3","x":1690,"y":0.012},{"s":"HNO3","x":1740,"y":0.005},{"s":"HNO3","x":1755,"y":0.007},{"s":"HNO3","x":1770,"y":0.005},{"s":"HNO3","x":1820,"y":0.002},{"s":"HNO3","x":1900,"y":0},
{"s":"HNO3","x":2400,"y":0.001},{"s":"HNO3","x":2500,"y":0.003},{"s":"HNO3","x":2545,"y":0.007},{"s":"HNO3","x":2575,"y":0.014},{"s":"HNO3","x":2605,"y":0.032},{"s":"HNO3","x":2625,"y":0.064},{"s":"HNO3","x":2642,"y":0.1},{"s":"HNO3","x":2660,"y":0.156},{"s":"HNO3","x":2672,"y":0.19},{"s":"HNO3","x":2680,"y":0.2},{"s":"HNO3","x":2688,"y":0.19},{"s":"HNO3","x":2700,"y":0.156},{"s":"HNO3","x":2718,"y":0.1},{"s":"HNO3","x":2735,"y":0.064},{"s":"HNO3","x":2755,"y":0.032},{"s":"HNO3","x":2785,"y":0.014},{"s":"HNO3","x":2835,"y":0.005},{"s":"HNO3","x":2905,"y":0.002},{"s":"HNO3","x":3000,"y":0}
],
"b2":[
{"s":"Electrochemical","x":100,"y":2.1},{"s":"Electrochemical","x":112,"y":2.11},{"s":"Electrochemical","x":122,"y":2.115},{"s":"Electrochemical","x":132,"y":2.122},{"s":"Electrochemical","x":140,"y":2.128},{"s":"Electrochemical","x":147,"y":2.13},{"s":"Electrochemical","x":154,"y":2.126},{"s":"Electrochemical","x":162,"y":2.117},{"s":"Electrochemical","x":172,"y":2.108},{"s":"Electrochemical","x":185,"y":2.103},{"s":"Electrochemical","x":210,"y":2.1},{"s":"Electrochemical","x":250,"y":2.099},{"s":"Electrochemical","x":300,"y":2.1},
{"s":"Electrochemical","x":1210,"y":2.1},{"s":"Electrochemical","x":1260,"y":2.1},{"s":"Electrochemical","x":1300,"y":2.102},{"s":"Electrochemical","x":1320,"y":2.106},{"s":"Electrochemical","x":1330,"y":2.111},{"s":"Electrochemical","x":1345,"y":2.116},{"s":"Electrochemical","x":1380,"y":2.104},{"s":"Electrochemical","x":1440,"y":2.113},{"s":"Electrochemical","x":1500,"y":2.133},{"s":"Electrochemical","x":1530,"y":2.185},{"s":"Electrochemical","x":1545,"y":2.255},{"s":"Electrochemical","x":1555,"y":2.34},{"s":"Electrochemical","x":1563,"y":2.43},{"s":"Electrochemical","x":1570,"y":2.51},{"s":"Electrochemical","x":1577,"y":2.57},{"s":"Electrochemical","x":1583,"y":2.62},{"s":"Electrochemical","x":1587,"y":2.75},{"s":"Electrochemical","x":1590,"y":3.1},{"s":"Electrochemical","x":1593,"y":2.9},{"s":"Electrochemical","x":1597,"y":2.6},{"s":"Electrochemical","x":1602,"y":2.47},{"s":"Electrochemical","x":1610,"y":2.33},{"s":"Electrochemical","x":1620,"y":2.24},{"s":"Electrochemical","x":1635,"y":2.17},{"s":"Electrochemical","x":1655,"y":2.135},{"s":"Electrochemical","x":1690,"y":2.112},{"s":"Electrochemical","x":1740,"y":2.105},{"s":"Electrochemical","x":1755,"y":2.108},{"s":"Electrochemical","x":1770,"y":2.104},{"s":"Electrochemical","x":1820,"y":2.101},{"s":"Electrochemical","x":1900,"y":2.1},
{"s":"Electrochemical","x":2400,"y":2.1},{"s":"Electrochemical","x":2500,"y":2.103},{"s":"Electrochemical","x":2545,"y":2.106},{"s":"Electrochemical","x":2575,"y":2.113},{"s":"Electrochemical","x":2605,"y":2.129},{"s":"Electrochemical","x":2625,"y":2.158},{"s":"Electrochemical","x":2642,"y":2.19},{"s":"Electrochemical","x":2660,"y":2.24},{"s":"Electrochemical","x":2672,"y":2.271},{"s":"Electrochemical","x":2680,"y":2.28},{"s":"Electrochemical","x":2688,"y":2.271},{"s":"Electrochemical","x":2700,"y":2.24},{"s":"Electrochemical","x":2718,"y":2.19},{"s":"Electrochemical","x":2735,"y":2.158},{"s":"Electrochemical","x":2755,"y":2.129},{"s":"Electrochemical","x":2785,"y":2.113},{"s":"Electrochemical","x":2835,"y":2.105},{"s":"Electrochemical","x":2905,"y":2.101},{"s":"Electrochemical","x":3000,"y":2.1},
{"s":"NaNp/DMAc","x":100,"y":1.402},{"s":"NaNp/DMAc","x":112,"y":1.415},{"s":"NaNp/DMAc","x":122,"y":1.425},{"s":"NaNp/DMAc","x":132,"y":1.43},{"s":"NaNp/DMAc","x":140,"y":1.435},{"s":"NaNp/DMAc","x":147,"y":1.435},{"s":"NaNp/DMAc","x":154,"y":1.428},{"s":"NaNp/DMAc","x":162,"y":1.417},{"s":"NaNp/DMAc","x":172,"y":1.408},{"s":"NaNp/DMAc","x":185,"y":1.403},{"s":"NaNp/DMAc","x":210,"y":1.4},{"s":"NaNp/DMAc","x":250,"y":1.399},{"s":"NaNp/DMAc","x":300,"y":1.4},
{"s":"NaNp/DMAc","x":1210,"y":1.4},{"s":"NaNp/DMAc","x":1260,"y":1.4},{"s":"NaNp/DMAc","x":1300,"y":1.401},{"s":"NaNp/DMAc","x":1320,"y":1.404},{"s":"NaNp/DMAc","x":1330,"y":1.407},{"s":"NaNp/DMAc","x":1345,"y":1.41},{"s":"NaNp/DMAc","x":1380,"y":1.403},{"s":"NaNp/DMAc","x":1440,"y":1.412},{"s":"NaNp/DMAc","x":1500,"y":1.433},{"s":"NaNp/DMAc","x":1530,"y":1.49},{"s":"NaNp/DMAc","x":1545,"y":1.56},{"s":"NaNp/DMAc","x":1555,"y":1.66},{"s":"NaNp/DMAc","x":1563,"y":1.78},{"s":"NaNp/DMAc","x":1570,"y":1.86},{"s":"NaNp/DMAc","x":1577,"y":1.88},{"s":"NaNp/DMAc","x":1583,"y":1.92},{"s":"NaNp/DMAc","x":1587,"y":2.05},{"s":"NaNp/DMAc","x":1590,"y":2.4},{"s":"NaNp/DMAc","x":1593,"y":2.18},{"s":"NaNp/DMAc","x":1597,"y":1.88},{"s":"NaNp/DMAc","x":1602,"y":1.76},{"s":"NaNp/DMAc","x":1610,"y":1.63},{"s":"NaNp/DMAc","x":1620,"y":1.54},{"s":"NaNp/DMAc","x":1635,"y":1.47},{"s":"NaNp/DMAc","x":1655,"y":1.435},{"s":"NaNp/DMAc","x":1690,"y":1.413},{"s":"NaNp/DMAc","x":1740,"y":1.405},{"s":"NaNp/DMAc","x":1755,"y":1.408},{"s":"NaNp/DMAc","x":1770,"y":1.404},{"s":"NaNp/DMAc","x":1820,"y":1.401},{"s":"NaNp/DMAc","x":1900,"y":1.4},
{"s":"NaNp/DMAc","x":2400,"y":1.401},{"s":"NaNp/DMAc","x":2500,"y":1.403},{"s":"NaNp/DMAc","x":2545,"y":1.407},{"s":"NaNp/DMAc","x":2575,"y":1.414},{"s":"NaNp/DMAc","x":2605,"y":1.432},{"s":"NaNp/DMAc","x":2625,"y":1.464},{"s":"NaNp/DMAc","x":2642,"y":1.5},{"s":"NaNp/DMAc","x":2660,"y":1.556},{"s":"NaNp/DMAc","x":2672,"y":1.59},{"s":"NaNp/DMAc","x":2680,"y":1.6},{"s":"NaNp/DMAc","x":2688,"y":1.59},{"s":"NaNp/DMAc","x":2700,"y":1.556},{"s":"NaNp/DMAc","x":2718,"y":1.5},{"s":"NaNp/DMAc","x":2735,"y":1.464},{"s":"NaNp/DMAc","x":2755,"y":1.432},{"s":"NaNp/DMAc","x":2785,"y":1.414},{"s":"NaNp/DMAc","x":2835,"y":1.405},{"s":"NaNp/DMAc","x":2905,"y":1.402},{"s":"NaNp/DMAc","x":3000,"y":1.4},
{"s":"Water Vapour","x":100,"y":0.705},{"s":"Water Vapour","x":112,"y":0.712},{"s":"Water Vapour","x":122,"y":0.716},{"s":"Water Vapour","x":132,"y":0.718},{"s":"Water Vapour","x":140,"y":0.717},{"s":"Water Vapour","x":147,"y":0.715},{"s":"Water Vapour","x":154,"y":0.712},{"s":"Water Vapour","x":162,"y":0.708},{"s":"Water Vapour","x":172,"y":0.704},{"s":"Water Vapour","x":185,"y":0.702},{"s":"Water Vapour","x":210,"y":0.7},{"s":"Water Vapour","x":250,"y":0.699},{"s":"Water Vapour","x":300,"y":0.7},
{"s":"Water Vapour","x":1210,"y":0.702},{"s":"Water Vapour","x":1260,"y":0.702},{"s":"Water Vapour","x":1300,"y":0.705},{"s":"Water Vapour","x":1320,"y":0.72},{"s":"Water Vapour","x":1330,"y":0.738},{"s":"Water Vapour","x":1345,"y":0.755},{"s":"Water Vapour","x":1380,"y":0.71},{"s":"Water Vapour","x":1440,"y":0.712},{"s":"Water Vapour","x":1500,"y":0.73},{"s":"Water Vapour","x":1530,"y":0.79},{"s":"Water Vapour","x":1545,"y":0.87},{"s":"Water Vapour","x":1555,"y":0.98},{"s":"Water Vapour","x":1563,"y":1.12},{"s":"Water Vapour","x":1570,"y":1.26},{"s":"Water Vapour","x":1577,"y":1.36},{"s":"Water Vapour","x":1583,"y":1.45},{"s":"Water Vapour","x":1587,"y":1.55},{"s":"Water Vapour","x":1590,"y":1.7},{"s":"Water Vapour","x":1593,"y":1.6},{"s":"Water Vapour","x":1597,"y":1.35},{"s":"Water Vapour","x":1602,"y":1.12},{"s":"Water Vapour","x":1610,"y":0.94},{"s":"Water Vapour","x":1620,"y":0.83},{"s":"Water Vapour","x":1635,"y":0.765},{"s":"Water Vapour","x":1655,"y":0.73},{"s":"Water Vapour","x":1690,"y":0.712},{"s":"Water Vapour","x":1740,"y":0.705},{"s":"Water Vapour","x":1755,"y":0.707},{"s":"Water Vapour","x":1770,"y":0.704},{"s":"Water Vapour","x":1820,"y":0.702},{"s":"Water Vapour","x":1900,"y":0.7},
{"s":"Water Vapour","x":2400,"y":0.7},{"s":"Water Vapour","x":2500,"y":0.702},{"s":"Water Vapour","x":2545,"y":0.706},{"s":"Water Vapour","x":2575,"y":0.711},{"s":"Water Vapour","x":2605,"y":0.726},{"s":"Water Vapour","x":2625,"y":0.751},{"s":"Water Vapour","x":2642,"y":0.78},{"s":"Water Vapour","x":2660,"y":0.825},{"s":"Water Vapour","x":2672,"y":0.852},{"s":"Water Vapour","x":2680,"y":0.86},{"s":"Water Vapour","x":2688,"y":0.852},{"s":"Water Vapour","x":2700,"y":0.825},{"s":"Water Vapour","x":2718,"y":0.78},{"s":"Water Vapour","x":2735,"y":0.751},{"s":"Water Vapour","x":2755,"y":0.726},{"s":"Water Vapour","x":2785,"y":0.711},{"s":"Water Vapour","x":2835,"y":0.704},{"s":"Water Vapour","x":2905,"y":0.701},{"s":"Water Vapour","x":3000,"y":0.7},
{"s":"Air","x":100,"y":0.005},{"s":"Air","x":112,"y":0.01},{"s":"Air","x":122,"y":0.014},{"s":"Air","x":132,"y":0.016},{"s":"Air","x":140,"y":0.015},{"s":"Air","x":147,"y":0.013},{"s":"Air","x":154,"y":0.01},{"s":"Air","x":162,"y":0.007},{"s":"Air","x":172,"y":0.004},{"s":"Air","x":185,"y":0.002},{"s":"Air","x":210,"y":0},{"s":"Air","x":250,"y":-0.001},{"s":"Air","x":300,"y":0},
{"s":"Air","x":1210,"y":0.002},{"s":"Air","x":1260,"y":0.002},{"s":"Air","x":1300,"y":0.004},{"s":"Air","x":1320,"y":0.012},{"s":"Air","x":1330,"y":0.023},{"s":"Air","x":1345,"y":0.032},{"s":"Air","x":1380,"y":0.007},{"s":"Air","x":1440,"y":0.012},{"s":"Air","x":1500,"y":0.035},{"s":"Air","x":1530,"y":0.1},{"s":"Air","x":1545,"y":0.19},{"s":"Air","x":1555,"y":0.31},{"s":"Air","x":1563,"y":0.46},{"s":"Air","x":1570,"y":0.6},{"s":"Air","x":1577,"y":0.73},{"s":"Air","x":1583,"y":0.85},{"s":"Air","x":1587,"y":0.93},{"s":"Air","x":1590,"y":1.0},{"s":"Air","x":1593,"y":0.95},{"s":"Air","x":1597,"y":0.78},{"s":"Air","x":1602,"y":0.55},{"s":"Air","x":1610,"y":0.32},{"s":"Air","x":1620,"y":0.17},{"s":"Air","x":1635,"y":0.08},{"s":"Air","x":1655,"y":0.035},{"s":"Air","x":1690,"y":0.013},{"s":"Air","x":1740,"y":0.005},{"s":"Air","x":1755,"y":0.007},{"s":"Air","x":1770,"y":0.004},{"s":"Air","x":1820,"y":0.002},{"s":"Air","x":1900,"y":0},
{"s":"Air","x":2400,"y":0.001},{"s":"Air","x":2500,"y":0.003},{"s":"Air","x":2545,"y":0.006},{"s":"Air","x":2575,"y":0.013},{"s":"Air","x":2605,"y":0.029},{"s":"Air","x":2625,"y":0.058},{"s":"Air","x":2642,"y":0.09},{"s":"Air","x":2660,"y":0.14},{"s":"Air","x":2672,"y":0.171},{"s":"Air","x":2680,"y":0.18},{"s":"Air","x":2688,"y":0.171},{"s":"Air","x":2700,"y":0.14},{"s":"Air","x":2718,"y":0.09},{"s":"Air","x":2735,"y":0.058},{"s":"Air","x":2755,"y":0.029},{"s":"Air","x":2785,"y":0.013},{"s":"Air","x":2835,"y":0.005},{"s":"Air","x":2905,"y":0.001},{"s":"Air","x":3000,"y":0}
],
"La1":[{"t":"As-Received","x":2310,"y":2.47},{"t":"HCl","x":2322,"y":1.74},{"t":"HCl/H₂O₂","x":2325,"y":0.99},{"t":"HNO₃","x":2322,"y":0.34}],
"La2":[{"t":"Electrochemical","x":2208,"y":2.41},{"t":"NaNp/DMAc","x":2208,"y":1.71},{"t":"Water Vapour","x":2217,"y":1.01},{"t":"Air","x":2208,"y":0.29}],
"Lb1":[{"t":"As-Received","x":2363,"y":2.49},{"t":"HCl","x":2372,"y":1.78},{"t":"HCl/H₂O₂","x":2381,"y":1.07},{"t":"HNO₃","x":2378,"y":0.36}],
"Lb2":[{"t":"Electrochemical","x":2202,"y":2.39},{"t":"NaNp/DMAc","x":2202,"y":1.70},{"t":"Water Vapour","x":2211,"y":1.01},{"t":"Air","x":2202,"y":0.28}],
"br1":[{"x":305,"y":-0.25}],
"br2":[{"x":1900,"y":-0.25}]
},
"spacing":39,
"vconcat":[
{"title":{"text":"(a) 633 nm","offset":16},"spacing":10,"hconcat":[
{"spacing":0,"bounds":"flush","hconcat":[
{"width":79,"height":402.5,
"encoding":{"x":{"field":"x","type":"quantitative","scale":{"domain":[45,305],"nice":false,"zero":false},"axis":{"values":[100,150,200,250],"format":"d","labelExpr":"datum.value % 100 == 0 ? datum.label : ''","tickSize":{"condition":{"test":"datum.value % 100 == 0","value":5},"value":3.5},"title":null}},"y":{"field":"y","type":"quantitative","scale":{"domain":[-0.25,3.25],"nice":false,"zero":false},"axis":{"values":[0,0.25,0.5,0.75,1,1.25,1.5,1.75,2,2.25,2.5,2.75,3],"labelExpr":"abs(datum.value*2-round(datum.value*2))<0.01 ? format(datum.value,'.1f') : ''","tickSize":{"condition":{"test":"abs(datum.value*2-round(datum.value*2))<0.01","value":5},"value":3},"title":"Offset Normalised Intensities","labelPadding":8,"titlePadding":16}}},
"layer":[
{"data":{"name":"a1"},"transform":[{"filter":"datum.x < 1000"}],"mark":{"type":"line","interpolate":"monotone","color":"#1a1a1a","strokeWidth":1.5},"encoding":{"detail":{"field":"s"}}},
{"data":{"name":"br1"},"mark":{"type":"text","text":"//","fontSize":16,"font":"Liberation Sans","align":"center","baseline":"middle","color":"#111"}}
]},
{"width":129.4,"height":402.5,
"encoding":{"x":{"field":"x","type":"quantitative","scale":{"domain":[1185,1900],"nice":false,"zero":false},"axis":{"values":[1250,1375,1500,1625,1750,1875],"format":"d","labelExpr":"datum.value % 250 == 0 ? datum.label : ''","tickSize":{"condition":{"test":"datum.value % 250 == 0","value":5},"value":3.5},"title":"Raman Shift (cm⁻¹)","titleX":82.5,"titlePadding":17}},"y":{"field":"y","type":"quantitative","scale":{"domain":[-0.25,3.25],"nice":false,"zero":false},"axis":null}},
"layer":[
{"data":{"name":"a1"},"transform":[{"filter":"datum.x > 1000 && datum.x < 2000"}],"mark":{"type":"line","interpolate":"monotone","color":"#1a1a1a","strokeWidth":1.5},"encoding":{"detail":{"field":"s"}}},
{"data":{"name":"br2"},"mark":{"type":"text","text":"//","fontSize":16,"font":"Liberation Sans","align":"center","baseline":"middle","color":"#111"}}
]},
{"width":113,"height":402.5,
"encoding":{"x":{"field":"x","type":"quantitative","scale":{"domain":[2385,3000],"nice":false,"zero":false},"axis":{"values":[2500,2625,2750,2875,3000],"format":"d","labelExpr":"datum.value % 250 == 0 ? datum.label : ''","tickSize":{"condition":{"test":"datum.value % 250 == 0","value":5},"value":3.5},"title":null}},"y":{"field":"y","type":"quantitative","scale":{"domain":[-0.25,3.25],"nice":false,"zero":false},"axis":null}},
"layer":[
{"data":{"name":"a1"},"transform":[{"filter":"datum.x > 2000"}],"mark":{"type":"line","interpolate":"monotone","color":"#1a1a1a","strokeWidth":1.5},"encoding":{"detail":{"field":"s"}}},
{"data":{"name":"La1"},"mark":{"type":"text","align":"left","baseline":"middle","font":"Liberation Sans","fontSize":21,"color":"#111"},"encoding":{"text":{"field":"t"}}}
]}
]},
{"spacing":0,"bounds":"flush","hconcat":[
{"width":79,"height":402.5,
"encoding":{"x":{"field":"x","type":"quantitative","scale":{"domain":[45,305],"nice":false,"zero":false},"axis":{"values":[100,150,200,250],"format":"d","labelExpr":"datum.value % 100 == 0 ? datum.label : ''","tickSize":{"condition":{"test":"datum.value % 100 == 0","value":5},"value":3.5},"title":null}},"y":{"field":"y","type":"quantitative","scale":{"domain":[-0.25,3.25],"nice":false,"zero":false},"axis":{"values":[0,0.25,0.5,0.75,1,1.25,1.5,1.75,2,2.25,2.5,2.75,3],"labelExpr":"abs(datum.value*2-round(datum.value*2))<0.01 ? format(datum.value,'.1f') : ''","tickSize":{"condition":{"test":"abs(datum.value*2-round(datum.value*2))<0.01","value":5},"value":3},"title":"Offset Normalised Intensities","labelPadding":8,"titlePadding":16}}},
"layer":[
{"data":{"name":"a2"},"transform":[{"filter":"datum.x < 1000"}],"mark":{"type":"line","interpolate":"monotone","color":"#1a1a1a","strokeWidth":1.5},"encoding":{"detail":{"field":"s"}}},
{"data":{"name":"br1"},"mark":{"type":"text","text":"//","fontSize":16,"font":"Liberation Sans","align":"center","baseline":"middle","color":"#111"}}
]},
{"width":129.4,"height":402.5,
"encoding":{"x":{"field":"x","type":"quantitative","scale":{"domain":[1185,1900],"nice":false,"zero":false},"axis":{"values":[1250,1375,1500,1625,1750,1875],"format":"d","labelExpr":"datum.value % 250 == 0 ? datum.label : ''","tickSize":{"condition":{"test":"datum.value % 250 == 0","value":5},"value":3.5},"title":"Raman Shift (cm⁻¹)","titleX":82.5,"titlePadding":17}},"y":{"field":"y","type":"quantitative","scale":{"domain":[-0.25,3.25],"nice":false,"zero":false},"axis":null}},
"layer":[
{"data":{"name":"a2"},"transform":[{"filter":"datum.x > 1000 && datum.x < 2000"}],"mark":{"type":"line","interpolate":"monotone","color":"#1a1a1a","strokeWidth":1.5},"encoding":{"detail":{"field":"s"}}},
{"data":{"name":"br2"},"mark":{"type":"text","text":"//","fontSize":16,"font":"Liberation Sans","align":"center","baseline":"middle","color":"#111"}}
]},
{"width":113,"height":402.5,
"encoding":{"x":{"field":"x","type":"quantitative","scale":{"domain":[2385,3000],"nice":false,"zero":false},"axis":{"values":[2500,2625,2750,2875,3000],"format":"d","labelExpr":"datum.value % 250 == 0 ? datum.label : ''","tickSize":{"condition":{"test":"datum.value % 250 == 0","value":5},"value":3.5},"title":null}},"y":{"field":"y","type":"quantitative","scale":{"domain":[-0.25,3.25],"nice":false,"zero":false},"axis":null}},
"layer":[
{"data":{"name":"a2"},"transform":[{"filter":"datum.x > 2000"}],"mark":{"type":"line","interpolate":"monotone","color":"#1a1a1a","strokeWidth":1.5},"encoding":{"detail":{"field":"s"}}},
{"data":{"name":"La2"},"mark":{"type":"text","align":"left","baseline":"middle","font":"Liberation Sans","fontSize":21,"color":"#111"},"encoding":{"text":{"field":"t"}}}
]}
]}
]},
{"title":{"text":"(b) 532 nm","offset":23},"spacing":10,"hconcat":[
{"spacing":0,"bounds":"flush","hconcat":[
{"width":79,"height":394.5,
"encoding":{"x":{"field":"x","type":"quantitative","scale":{"domain":[45,305],"nice":false,"zero":false},"axis":{"values":[100,150,200,250],"format":"d","labelExpr":"datum.value % 100 == 0 ? datum.label : ''","tickSize":{"condition":{"test":"datum.value % 100 == 0","value":5},"value":3.5},"title":null}},"y":{"field":"y","type":"quantitative","scale":{"domain":[-0.25,3.18],"nice":false,"zero":false},"axis":{"values":[0,0.25,0.5,0.75,1,1.25,1.5,1.75,2,2.25,2.5,2.75,3],"labelExpr":"abs(datum.value*2-round(datum.value*2))<0.01 ? format(datum.value,'.1f') : ''","tickSize":{"condition":{"test":"abs(datum.value*2-round(datum.value*2))<0.01","value":5},"value":3},"title":"Offset Normalised Intensities","labelPadding":8,"titlePadding":16}}},
"layer":[
{"data":{"name":"b1"},"transform":[{"filter":"datum.x < 1000"}],"mark":{"type":"line","interpolate":"monotone","color":"#1a1a1a","strokeWidth":1.5},"encoding":{"detail":{"field":"s"}}},
{"data":{"name":"br1"},"mark":{"type":"text","text":"//","fontSize":16,"font":"Liberation Sans","align":"center","baseline":"middle","color":"#111"}}
]},
{"width":129.4,"height":394.5,
"encoding":{"x":{"field":"x","type":"quantitative","scale":{"domain":[1185,1900],"nice":false,"zero":false},"axis":{"values":[1250,1375,1500,1625,1750,1875],"format":"d","labelExpr":"datum.value % 250 == 0 ? datum.label : ''","tickSize":{"condition":{"test":"datum.value % 250 == 0","value":5},"value":3.5},"title":"Raman Shift (cm⁻¹)","titleX":82.5,"titlePadding":17}},"y":{"field":"y","type":"quantitative","scale":{"domain":[-0.25,3.18],"nice":false,"zero":false},"axis":null}},
"layer":[
{"data":{"name":"b1"},"transform":[{"filter":"datum.x > 1000 && datum.x < 2000"}],"mark":{"type":"line","interpolate":"monotone","color":"#1a1a1a","strokeWidth":1.5},"encoding":{"detail":{"field":"s"}}},
{"data":{"name":"br2"},"mark":{"type":"text","text":"//","fontSize":16,"font":"Liberation Sans","align":"center","baseline":"middle","color":"#111"}}
]},
{"width":113,"height":394.5,
"encoding":{"x":{"field":"x","type":"quantitative","scale":{"domain":[2385,3000],"nice":false,"zero":false},"axis":{"values":[2500,2625,2750,2875,3000],"format":"d","labelExpr":"datum.value % 250 == 0 ? datum.label : ''","tickSize":{"condition":{"test":"datum.value % 250 == 0","value":5},"value":3.5},"title":null}},"y":{"field":"y","type":"quantitative","scale":{"domain":[-0.25,3.18],"nice":false,"zero":false},"axis":null}},
"layer":[
{"data":{"name":"b1"},"transform":[{"filter":"datum.x > 2000"}],"mark":{"type":"line","interpolate":"monotone","color":"#1a1a1a","strokeWidth":1.5},"encoding":{"detail":{"field":"s"}}},
{"data":{"name":"Lb1"},"mark":{"type":"text","align":"left","baseline":"middle","font":"Liberation Sans","fontSize":21,"color":"#111"},"encoding":{"text":{"field":"t"}}}
]}
]},
{"spacing":0,"bounds":"flush","hconcat":[
{"width":79,"height":394.5,
"encoding":{"x":{"field":"x","type":"quantitative","scale":{"domain":[45,305],"nice":false,"zero":false},"axis":{"values":[100,150,200,250],"format":"d","labelExpr":"datum.value % 100 == 0 ? datum.label : ''","tickSize":{"condition":{"test":"datum.value % 100 == 0","value":5},"value":3.5},"title":null}},"y":{"field":"y","type":"quantitative","scale":{"domain":[-0.25,3.18],"nice":false,"zero":false},"axis":{"values":[0,0.25,0.5,0.75,1,1.25,1.5,1.75,2,2.25,2.5,2.75,3],"labelExpr":"abs(datum.value*2-round(datum.value*2))<0.01 ? format(datum.value,'.1f') : ''","tickSize":{"condition":{"test":"abs(datum.value*2-round(datum.value*2))<0.01","value":5},"value":3},"title":"Offset Normalised Intensities","labelPadding":8,"titlePadding":16}}},
"layer":[
{"data":{"name":"b2"},"transform":[{"filter":"datum.x < 1000"}],"mark":{"type":"line","interpolate":"monotone","color":"#1a1a1a","strokeWidth":1.5},"encoding":{"detail":{"field":"s"}}},
{"data":{"name":"br1"},"mark":{"type":"text","text":"//","fontSize":16,"font":"Liberation Sans","align":"center","baseline":"middle","color":"#111"}}
]},
{"width":129.4,"height":394.5,
"encoding":{"x":{"field":"x","type":"quantitative","scale":{"domain":[1185,1900],"nice":false,"zero":false},"axis":{"values":[1250,1375,1500,1625,1750,1875],"format":"d","labelExpr":"datum.value % 250 == 0 ? datum.label : ''","tickSize":{"condition":{"test":"datum.value % 250 == 0","value":5},"value":3.5},"title":"Raman Shift (cm⁻¹)","titleX":82.5,"titlePadding":17}},"y":{"field":"y","type":"quantitative","scale":{"domain":[-0.25,3.18],"nice":false,"zero":false},"axis":null}},
"layer":[
{"data":{"name":"b2"},"transform":[{"filter":"datum.x > 1000 && datum.x < 2000"}],"mark":{"type":"line","interpolate":"monotone","color":"#1a1a1a","strokeWidth":1.5},"encoding":{"detail":{"field":"s"}}},
{"data":{"name":"br2"},"mark":{"type":"text","text":"//","fontSize":16,"font":"Liberation Sans","align":"center","baseline":"middle","color":"#111"}}
]},
{"width":113,"height":394.5,
"encoding":{"x":{"field":"x","type":"quantitative","scale":{"domain":[2385,3000],"nice":false,"zero":false},"axis":{"values":[2500,2625,2750,2875,3000],"format":"d","labelExpr":"datum.value % 250 == 0 ? datum.label : ''","tickSize":{"condition":{"test":"datum.value % 250 == 0","value":5},"value":3.5},"title":null}},"y":{"field":"y","type":"quantitative","scale":{"domain":[-0.25,3.18],"nice":false,"zero":false},"axis":null}},
"layer":[
{"data":{"name":"b2"},"transform":[{"filter":"datum.x > 2000"}],"mark":{"type":"line","interpolate":"monotone","color":"#1a1a1a","strokeWidth":1.5},"encoding":{"detail":{"field":"s"}}},
{"data":{"name":"Lb2"},"mark":{"type":"text","align":"left","baseline":"middle","font":"Liberation Sans","fontSize":21,"color":"#111"},"encoding":{"text":{"field":"t"}}}
]}
]}
]}
],
"config":{
"view":{"stroke":null},
"axis":{"grid":false,"domainColor":"#111","tickColor":"#111","domainWidth":1.3,"tickWidth":1.3,"labelFont":"Liberation Sans","labelFontSize":16,"labelColor":"#111","titleFont":"Liberation Sans","titleFontSize":20.5,"titleFontWeight":"normal","titleColor":"#111","labelFlush":false,"labelOverlap":false,"labelBound":false,"labelPadding":9},
"title":{"font":"Open Sans","fontSize":21,"fontWeight":"normal","anchor":"start","color":"#111","frame":"bounds"}
}
}
